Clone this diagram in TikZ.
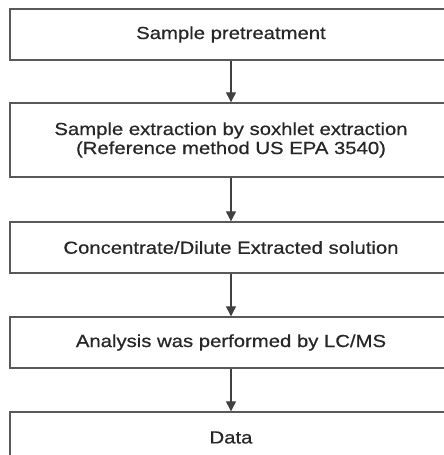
\documentclass[tikz,border=0pt]{standalone}
\usepackage{fontspec}
\setmainfont{Liberation Sans}[FakeStretch=1.16,FakeBold=0.6]
\usetikzlibrary{arrows.meta}
\begin{document}
\begin{tikzpicture}[x=1pt,y=1pt,
  stepbox/.style={draw=black!65, line width=1.4pt, minimum width=442pt, inner sep=0pt,
    align=center, text=black!85, font=\fontsize{17.5}{19}\selectfont},
  flow/.style={draw=black!75, line width=1.2pt, -{Triangle[width=10pt,length=10pt]}}]
\useasboundingbox (0,0) rectangle (444,-455);
\clip (0,0) rectangle (444,-455);
\node[stepbox, minimum height=51pt] (b1) at (231,-34.5) {Sample pretreatment};
\node[stepbox, minimum height=74pt] (b2) at (231,-140) {Sample extraction by soxhlet extraction\\(Reference method US EPA 3540)};
\node[stepbox, minimum height=51pt] (b3) at (231,-247.5) {Concentrate/Dilute Extracted solution};
\node[stepbox, minimum height=51pt] (b4) at (231,-342.5) {Analysis was performed by LC/MS};
\node[stepbox, minimum height=51pt] (b5) at (231,-437.5) {Data};
\draw[flow] (b1) -- (b2);
\draw[flow] (b2) -- (b3);
\draw[flow] (b3) -- (b4);
\draw[flow] (b4) -- (b5);
\end{tikzpicture}
\end{document}
